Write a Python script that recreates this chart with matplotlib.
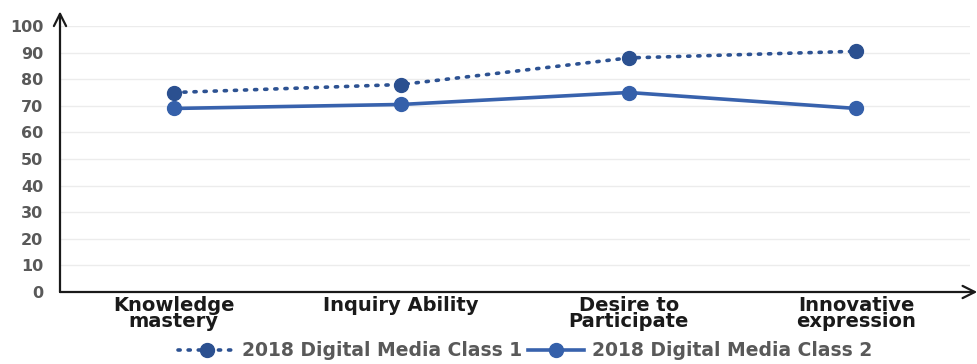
import numpy as np
import matplotlib
matplotlib.use("Agg")
import matplotlib.pyplot as plt

## data
categories = ["Knowledge\nmastery", "Inquiry Ability", "Desire to\nParticipate", "Innovative\nexpression"]
class1 = [75, 78, 88, 90.5]
class2 = [69, 70.5, 75, 69]
series_names = ["2018 Digital Media Class 1", "2018 Digital Media Class 2"]
yticks = list(range(0, 101, 10))

plt.rcParams['font.family'] = ['DejaVu Sans']
plt.rcParams['font.weight'] = 'bold'

fig = plt.figure(figsize=(9.78, 3.64), dpi=100)
ax = fig.add_axes([60/978, 72/364, 910/978, 266/364])

x = np.arange(len(categories))

## dotted series
ax.plot(x, class1, color='#2d5292', linestyle=(0, (0.6, 2.2)), linewidth=2.6,
        dash_capstyle='round', marker='o', markersize=10,
        markerfacecolor='#2b5090', markeredgecolor='#2b5090',
        label=series_names[0], zorder=3)
## solid series
ax.plot(x, class2, color='#3862ad', linestyle='-', linewidth=2.6,
        marker='o', markersize=10,
        markerfacecolor='#3560aa', markeredgecolor='#3560aa',
        label=series_names[1], zorder=3)

ax.set_xlim(-0.5, 3.5)
ax.set_ylim(0, 100)
ax.set_yticks(yticks)
ax.set_xticks(x)
ax.set_xticklabels(categories, fontsize=14, fontweight='bold', color='#1a1a1a',
                   linespacing=0.8)
ax.tick_params(axis='y', length=0, pad=12, labelsize=11.5, labelcolor='#595959')
ax.tick_params(axis='x', length=0, pad=3)
for lbl in ax.get_yticklabels():
    lbl.set_fontweight('bold')

ax.grid(axis='y', color='#ececec', linewidth=1)
ax.set_axisbelow(True)
for s in ax.spines.values():
    s.set_visible(False)

## axis arrows
ax.annotate('', xy=(1.008, 0), xytext=(0, 0), xycoords='axes fraction',
            arrowprops=dict(arrowstyle='->', color='#1a1a1a', lw=1.6,
                            mutation_scale=22, shrinkA=0, shrinkB=0),
            annotation_clip=False)
ax.annotate('', xy=(0, 1.055), xytext=(0, 0), xycoords='axes fraction',
            arrowprops=dict(arrowstyle='->', color='#1a1a1a', lw=1.6,
                            mutation_scale=22, shrinkA=0, shrinkB=0),
            annotation_clip=False)

leg = fig.legend(loc='center', bbox_to_anchor=(0.537, 0.036), ncol=2, frameon=False,
                 fontsize=13.5, handlelength=3.0, columnspacing=0.3, handletextpad=0.4,
                 borderaxespad=0)
for t in leg.get_texts():
    t.set_color('#595959')
    t.set_fontweight('bold')

fig.savefig('out.png', dpi=100)
